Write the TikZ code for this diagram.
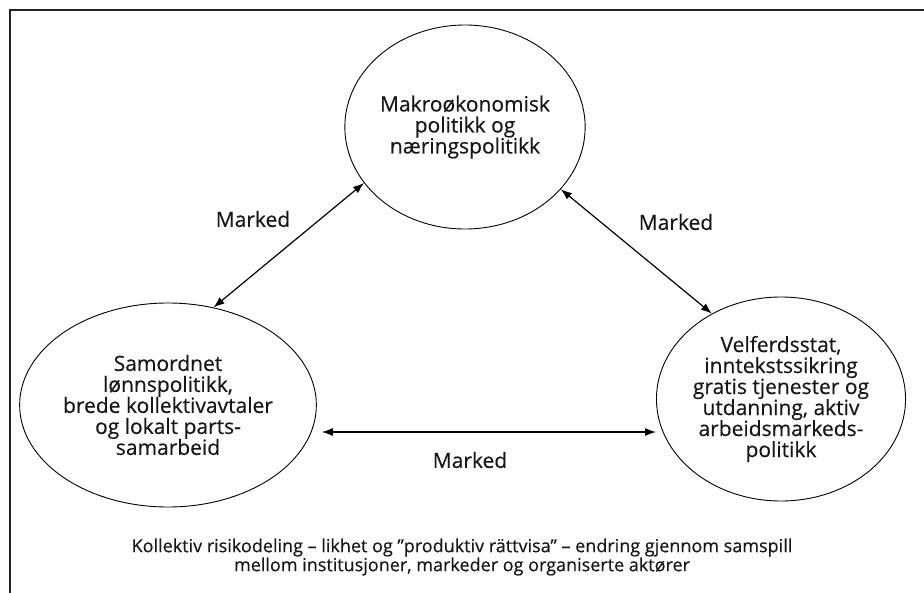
\documentclass[tikz,border=0pt]{standalone}
\usepackage{fontspec}
\setmainfont{Open Sans}[FakeBold=0.4]
\usetikzlibrary{shapes.geometric,arrows.meta}
\definecolor{textc}{RGB}{25,22,23}
\definecolor{framec}{RGB}{35,35,35}
\begin{document}
\begin{tikzpicture}[x=1pt,y=-1pt,
  circ/.style={ellipse,draw,line width=0.9pt,minimum width=236pt,minimum height=204pt,inner sep=0pt,align=center,font=\fontsize{21}{21}\selectfont,text=textc},
  lab/.style={font=\fontsize{21}{21}\selectfont,text=textc,inner sep=0pt},
  captext/.style={font=\fontsize{18}{19}\selectfont,text=textc,align=center,inner sep=0pt},
  arr/.style={{Latex[length=11pt,width=8pt]}-{Latex[length=11pt,width=8pt]},line width=1.2pt}]
\useasboundingbox (0,0) rectangle (924,592);
\clip (0,0) rectangle (924,592);
\draw[line width=2.5pt,color=framec] (10,600) -- (10,10) -- (930,10);

\node[circ] (T) at (465,127) {Makroøkonomisk\\politikk og\\næringspolitikk};
\node[circ] (L) at (168,405) {Samordnet\\lønnspolitikk,\\brede kollektivavtaler\\og lokalt parts-\\samarbeid};
\node[circ] (R) at (781,399) {Velferdsstat,\\inntekstssikring\\gratis tjenester og\\utdanning, aktiv\\arbeidsmarkeds-\\politikk};

\draw[arr] (L.65.6) -- (T.209.6);
\draw[arr] (T.327.8) -- (R.129.7);
\draw[arr] ([shift={(5pt,-27pt)}]L.east) -- ([shift={(0pt,-33pt)}]R.west);

\node[lab] (m1) at (253,219) {Marked};
\node[lab] (m2) at (676,222) {Marked};
\node[lab] (m3) at (470,460) {Marked};

\node[captext] (c) at (462,557) {Kollektiv risikodeling – likhet og ”produktiv rättvisa” – endring gjennom samspill\\mellom institusjoner, markeder og organiserte aktører};
\end{tikzpicture}
\end{document}
